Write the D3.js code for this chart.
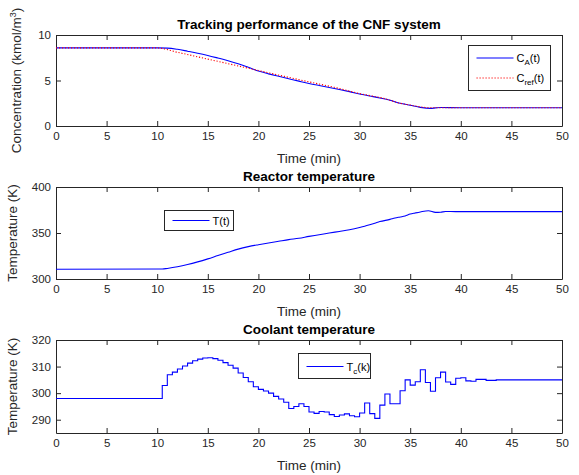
<!DOCTYPE html>
<html><head><meta charset="utf-8">
<script src="https://cdn.jsdelivr.net/npm/d3@7"></script>
<style>
body{margin:0;background:#fff;}
svg{display:block;font-family:"Liberation Sans",Arial,Helvetica,sans-serif;}
</style></head>
<body><svg id="c" width="579" height="475"></svg>
<script>
// ---- data ----
const xTicks = [0,5,10,15,20,25,30,35,40,45,50];
// Panel 1: concentration
const tCA  = [0,10,11,12,13,14,15,16,17,18,19,20,21,22,23,24,25,26,27,28,29,30,31,32,33,34,35,36,37,37.5,38,40,50];
const CA   = [8.58,8.58,8.56,8.43,8.22,8.0,7.75,7.47,7.18,6.85,6.45,6.04,5.73,5.46,5.2,4.93,4.67,4.45,4.24,4.02,3.78,3.52,3.3,3.08,2.83,2.5,2.28,2.05,1.94,1.99,2.03,2.0,2.0];
const tRef = [0,10,12,15,17,20,22.5,25,27.5,30,32.5,34,35,36,37,50];
const Cref = [8.58,8.58,8.1,7.35,6.85,6.1,5.47,4.85,4.25,3.56,3.0,2.5,2.3,2.1,2.0,2.0];
const yTicks1 = [0,5,10];
// Panel 2: reactor temperature
const tT  = [0,10.5,11,12,13,14,15,16,17,18,19,20,21,22,23,24,25,26,27,28,29,30,30.5,31,31.5,32,33,33.5,34,34.5,35,35.5,36,36.8,37.5,38,38.5,39.5,40,50];
const Tr  = [310.6,310.8,311.5,313.3,315.7,318.6,321.9,325.5,329,332.5,335.2,337.3,339.2,341,342.8,344.3,346.3,348.1,350,351.7,353.5,355.9,357.3,358.9,360.6,362.4,364.8,366.3,367.4,368.5,370.6,371.8,372.9,374.2,372.4,372.6,373.4,373.2,373.2,373.2];
const yTicks2 = [300,350,400];
// Panel 3: coolant temperature (zero-order hold)
const tTc = [0,10.5,11,11.5,12,12.5,13,13.5,14,14.5,15,15.5,16,16.5,17,17.5,18,18.5,19,19.5,20,20.5,21,21.5,22,22.5,23,23.5,24,24.5,25,25.5,26,26.5,27,27.5,28,28.5,29,29.5,30,30.5,31,31.5,32,32.5,33,33.5,34,34.5,35,35.5,36,36.5,37,37.5,38,38.5,39,39.5,40,40.5,41,41.5,42,42.5,43,43.5,50];
const Tc  = [298,302.9,306.9,307.9,309.1,310.2,311.3,312.2,312.8,313.2,313.3,313.0,312.4,311.5,310.5,309.4,307.6,305.9,304.3,302.4,301.4,300.8,300.0,298.8,297.8,296.6,294.2,295.0,296.0,295.0,292.9,292.4,293.1,292.9,291.9,291.2,291.8,292.2,291.5,291.1,292.5,296.3,292.3,290.5,295.5,299.7,296.0,296.0,300.9,305.0,303.0,304.3,308.8,304.0,300.7,305.8,307.9,304.2,303.3,305.6,305.8,304.6,304.5,305.2,305.2,304.8,304.8,305.0,305.0];
const yTicks3 = [290,300,310,320];

// ---- layout ----
const svg = d3.select("#c");
const X0 = 56, X1 = 562;
const axCol = "#262626";
const panels = [
  {top:35, bot:126, dom:[0,10], ticks:yTicks1, title:"Tracking performance of the CNF system", ylab:"Concentration (kmol/m", sup:"3", ylx:21},
  {top:187, bot:279, dom:[300,400], ticks:yTicks2, title:"Reactor temperature", ylab:"Temperature (K)", ylx:17},
  {top:340, bot:433, dom:[285,320], ticks:yTicks3, title:"Coolant temperature", ylab:"Temperature (K)", ylx:17}
];
const x = d3.scaleLinear().domain([0,50]).range([X0,X1]);

panels.forEach((p,i)=>{
  const y = d3.scaleLinear().domain(p.dom).range([p.bot,p.top]);
  p.y = y;
  const g = svg.append("g");
  g.append("rect").attr("x",X0).attr("y",p.top).attr("width",X1-X0).attr("height",p.bot-p.top).attr("fill","#fff");
  const fmt = d3.format("d");
  const ab = g.append("g").attr("transform",`translate(0,${p.bot})`)
    .call(d3.axisBottom(x).tickValues(xTicks).tickFormat(fmt).tickSizeInner(-5).tickSizeOuter(0).tickPadding(6));
  const at = g.append("g").attr("transform",`translate(0,${p.top})`)
    .call(d3.axisTop(x).tickValues(xTicks).tickFormat("").tickSizeInner(-5).tickSizeOuter(0));
  const al = g.append("g").attr("transform",`translate(${X0},0)`)
    .call(d3.axisLeft(y).tickValues(p.ticks).tickFormat(fmt).tickSizeInner(-5).tickSizeOuter(0).tickPadding(5));
  const ar = g.append("g").attr("transform",`translate(${X1},0)`)
    .call(d3.axisRight(y).tickValues(p.ticks).tickFormat("").tickSizeInner(-5).tickSizeOuter(0));
  [ab,at,al,ar].forEach(a=>{
    a.select(".domain").attr("stroke",axCol).attr("stroke-width",1);
    a.selectAll(".tick line").attr("stroke",axCol);
    a.selectAll("text").attr("fill",axCol).style("font-size","11.5px").style("font-family","inherit");
  });
  g.append("text").attr("x",(X0+X1)/2).attr("y",p.top-6).attr("text-anchor","middle")
    .style("font-size","13.5px").style("font-weight","bold").attr("fill","#000").text(p.title);
  g.append("text").attr("x",(X0+X1)/2).attr("y",p.bot+37).attr("text-anchor","middle")
    .style("font-size","13.5px").attr("fill",axCol).text("Time (min)");
  const yl = g.append("text").attr("transform",`translate(${p.ylx},${(p.top+p.bot)/2}) rotate(-90)`)
    .attr("text-anchor","middle").style("font-size","13.5px").attr("fill",axCol);
  yl.append("tspan").text(p.ylab);
  if(p.sup){ yl.append("tspan").attr("dy",-5).style("font-size","9px").text(p.sup);
             yl.append("tspan").attr("dy",5).text(")"); }
});

// lines
panels.forEach((p,i)=>{
  svg.append("clipPath").attr("id","clip"+i).append("rect").attr("x",X0).attr("y",p.top).attr("width",X1-X0).attr("height",p.bot-p.top);
});
const p1=panels[0], p2=panels[1], p3=panels[2];
const lineRef = d3.line().x((d,i)=>x(tRef[i])).y(d=>p1.y(d)).curve(d3.curveMonotoneX);
const lineCA  = d3.line().x((d,i)=>x(tCA[i])).y(d=>p1.y(d)).curve(d3.curveMonotoneX);
svg.append("path").attr("clip-path","url(#clip0)").attr("d",lineCA(CA)).attr("fill","none").attr("stroke","#0000ff").attr("stroke-width",1.1);
svg.append("path").attr("clip-path","url(#clip0)").attr("d",lineRef(Cref)).attr("fill","none").attr("stroke","#ff0000").attr("stroke-width",1.1).attr("stroke-dasharray","1.2,1.8");
const lineT = d3.line().x((d,i)=>x(tT[i])).y(d=>p2.y(d)).curve(d3.curveMonotoneX);
svg.append("path").attr("clip-path","url(#clip1)").attr("d",lineT(Tr)).attr("fill","none").attr("stroke","#0000ff").attr("stroke-width",1.1);
const lineTc = d3.line().x((d,i)=>x(tTc[i])).y(d=>p3.y(d)).curve(d3.curveStepAfter);
svg.append("path").attr("clip-path","url(#clip2)").attr("d",lineTc(Tc)).attr("fill","none").attr("stroke","#0000ff").attr("stroke-width",1.1);

// legends
function legend(bx,by,bw,bh,items){
  const g = svg.append("g");
  g.append("rect").attr("x",bx).attr("y",by).attr("width",bw).attr("height",bh).attr("fill","#fff").attr("stroke",axCol).attr("stroke-width",1);
  items.forEach(it=>{
    g.append("line").attr("x1",bx+8).attr("x2",bx+45).attr("y1",it.y).attr("y2",it.y)
      .attr("stroke",it.color).attr("stroke-width",1.1).attr("stroke-dasharray",it.dash||null);
    const t = g.append("text").attr("x",bx+48).attr("y",it.y+4).style("font-size","11px").attr("fill","#000");
    t.append("tspan").text(it.a);
    t.append("tspan").attr("dy",3).style("font-size","8px").text(it.s);
    t.append("tspan").attr("dy",-3).text(it.b);
  });
}
legend(468.5,45.5,82,45,[{y:58,color:"#0000ff",a:"C",s:"A",b:"(t)"},{y:78,color:"#ff0000",dash:"1.2,1.8",a:"C",s:"ref",b:"(t)"}]);
legend(164.5,210.5,69,20,[{y:220.5,color:"#0000ff",a:"T(t)",s:"",b:""}]);
legend(298.5,353.5,72,25,[{y:366.5,color:"#0000ff",a:"T",s:"c",b:"(k)"}]);
</script></body></html>
